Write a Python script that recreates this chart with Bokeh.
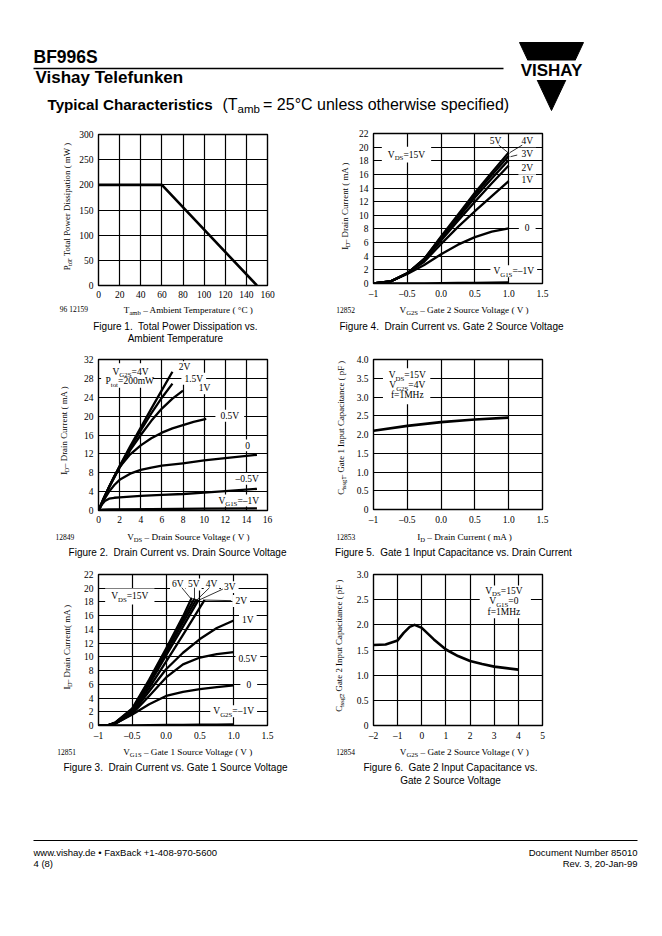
import math
from bokeh.plotting import figure
from bokeh.models import Range1d, FixedTicker, Label, BoxAnnotation, Arrow
from bokeh.layouts import column, row
from bokeh.core.properties import value
from bokeh.embed import file_html
from bokeh.resources import INLINE

# ---------------------------------------------------------------- data
# Figure 1: total power dissipation vs ambient temperature
F1_TAMB = [0, 60, 150]
F1_PTOT = [200, 200, 0]
F1_XTICKS = [0, 20, 40, 60, 80, 100, 120, 140, 160]
F1_XLABELS = ["0", "20", "40", "60", "80", "100", "120", "140", "160"]
F1_YTICKS = [0, 50, 100, 150, 200, 250, 300]
F1_YLABELS = ["0", "50", "100", "150", "200", "250", "300"]

# Figure 2: drain current vs drain source voltage (VG2S = 4 V), one curve per VG1S
F2_VDS_2V = [0, 1, 2, 3, 4, 5, 6, 7]
F2_ID_2V = [0, 5.0, 9.4, 13.6, 17.6, 21.6, 25.5, 29.4]
F2_VDS_15V = [0, 1, 2, 3, 4, 5, 6, 7]
F2_ID_15V = [0, 5.0, 9.3, 13.3, 17.0, 20.6, 23.9, 26.9]
F2_VDS_1V = [0, 1, 2, 3, 4, 5, 6, 7, 8]
F2_ID_1V = [0, 4.9, 9.1, 12.8, 16.0, 19.0, 21.6, 23.7, 25.4]
F2_VDS_05V = [0, 0.5, 1, 1.5, 2, 3, 4, 5, 6, 7, 8, 9, 10.2]
F2_ID_05V = [0, 2.7, 5.0, 7.3, 9.2, 11.9, 13.8, 15.3, 16.5, 17.4, 18.1, 18.8, 19.4]
F2_VDS_0V = [0, 0.5, 1, 1.5, 2, 3, 4, 5, 6, 8, 10, 12, 15]
F2_ID_0V = [0, 2.2, 4.0, 5.4, 6.5, 7.8, 8.6, 9.1, 9.5, 10.0, 10.6, 11.1, 11.8]
F2_VDS_M05V = [0, 0.3, 0.6, 1, 1.5, 2, 4, 6, 8, 10, 12, 15]
F2_ID_M05V = [0, 1.2, 2.0, 2.5, 2.7, 2.8, 3.1, 3.3, 3.5, 3.8, 4.1, 4.6]
F2_VDS_M1V = [0, 0.3, 1, 5, 10, 15]
F2_ID_M1V = [0, 0.2, 0.25, 0.3, 0.38, 0.45]
F2_XTICKS = [0, 2, 4, 6, 8, 10, 12, 14, 16]
F2_XLABELS = ["0", "2", "4", "6", "8", "10", "12", "14", "16"]
F2_YTICKS = [0, 4, 8, 12, 16, 20, 24, 28, 32]
F2_YLABELS = ["0", "4", "8", "12", "16", "20", "24", "28", "32"]

# Figure 3: drain current vs gate 1 source voltage (VDS = 15 V), one curve per VG2S
F3_VG1S = [-1, -0.85, -0.75, -0.5, -0.25, 0, 0.25, 0.5, 0.75, 1.0]
F3_ID_M1V = [0, 0, 0, 0.02, 0.05, 0.08, 0.1, 0.12, 0.14, 0.15]
F3_ID_0V = [0, 0.05, 0.3, 1.6, 3.1, 4.3, 4.9, 5.3, 5.6, 5.85]
F3_ID_05V = [0, 0.05, 0.3, 1.7, 4.3, 7.0, 8.9, 9.9, 10.4, 10.7]
F3_ID_1V = [0, 0.05, 0.3, 1.8, 5.0, 8.2, 10.6, 12.6, 14.2, 15.3]
F3_VG1S_2V = [-1, -0.85, -0.75, -0.5, -0.25, 0, 0.25, 0.57]
F3_ID_2V = [0, 0.05, 0.35, 2.0, 5.5, 9.3, 13.2, 18.3]
F3_VG1S_3V = [-1, -0.85, -0.75, -0.5, -0.25, 0, 0.25, 0.48]
F3_ID_3V = [0, 0.05, 0.4, 2.2, 6.0, 10.2, 14.4, 18.3]
F3_VG1S_4V = [-1, -0.85, -0.75, -0.5, -0.25, 0, 0.25, 0.45]
F3_ID_4V = [0, 0.05, 0.4, 2.3, 6.3, 10.6, 15.0, 18.4]
F3_VG1S_5V = [-1, -0.85, -0.75, -0.5, -0.25, 0, 0.25, 0.42]
F3_ID_5V = [0, 0.05, 0.4, 2.4, 6.5, 10.9, 15.5, 18.5]
F3_VG1S_6V = [-1, -0.85, -0.75, -0.5, -0.25, 0, 0.25, 0.38]
F3_ID_6V = [0, 0.05, 0.45, 2.5, 6.7, 11.2, 15.9, 18.6]
F3_XTICKS = [-1, -0.5, 0, 0.5, 1.0, 1.5]
F3_XLABELS = ["–1", "–0.5", "0.0", "0.5", "1.0", "1.5"]
F3_YTICKS = [0, 2, 4, 6, 8, 10, 12, 14, 16, 18, 20, 22]
F3_YLABELS = ["0", "2", "4", "6", "8", "10", "12", "14", "16", "18", "20", "22"]

# Figure 4: drain current vs gate 2 source voltage (VDS = 15 V), one curve per VG1S
F4_VG2S = [-1, -0.75, -0.5, -0.25, 0, 0.25, 0.5, 0.75, 1.0]
F4_ID_M1V = [0, 0, 0, 0.02, 0.05, 0.08, 0.1, 0.12, 0.15]
F4_ID_0V = [0, 0.3, 1.4, 2.7, 4.3, 5.7, 6.8, 7.6, 8.1]
F4_ID_1V = [0, 0.3, 1.5, 3.2, 5.8, 8.3, 10.6, 12.8, 15.0]
F4_ID_2V = [0, 0.3, 1.5, 3.4, 6.3, 9.2, 12.0, 14.7, 17.3]
F4_ID_3V = [0, 0.3, 1.5, 3.5, 6.6, 9.6, 12.6, 15.4, 18.1]
F4_ID_4V = [0, 0.3, 1.5, 3.6, 6.8, 9.9, 13.0, 15.9, 18.7]
F4_ID_5V = [0, 0.3, 1.5, 3.6, 6.9, 10.1, 13.3, 16.3, 19.2]
F4_XTICKS = [-1, -0.5, 0, 0.5, 1.0, 1.5]
F4_XLABELS = ["–1", "–0.5", "0.0", "0.5", "1.0", "1.5"]
F4_YTICKS = [0, 2, 4, 6, 8, 10, 12, 14, 16, 18, 20, 22]
F4_YLABELS = ["0", "2", "4", "6", "8", "10", "12", "14", "16", "18", "20", "22"]

# Figure 5: gate 1 input capacitance vs drain current
F5_ID = [-1, -0.5, 0, 0.5, 1.0]
F5_CISSG1 = [2.1, 2.23, 2.33, 2.4, 2.45]
F5_XTICKS = [-1, -0.5, 0, 0.5, 1.0, 1.5]
F5_XLABELS = ["–1", "–0.5", "0.0", "0.5", "1.0", "1.5"]
F5_YTICKS = [0, 0.5, 1.0, 1.5, 2.0, 2.5, 3.0, 3.5, 4.0]
F5_YLABELS = ["0", "0.5", "1.0", "1.5", "2.0", "2.5", "3.0", "3.5", "4.0"]

# Figure 6: gate 2 input capacitance vs gate 2 source voltage
F6_VG2S = [-2, -1.5, -1, -0.75, -0.5, -0.3, 0, 0.5, 1, 1.5, 2, 2.5, 3, 3.5, 4]
F6_CISSG2 = [1.6, 1.61, 1.69, 1.84, 1.96, 2.0, 1.94, 1.71, 1.51, 1.38, 1.28, 1.22, 1.17, 1.14, 1.11]
F6_XTICKS = [-2, -1, 0, 1, 2, 3, 4, 5]
F6_XLABELS = ["–2", "–1", "0", "1", "2", "3", "4", "5"]
F6_YTICKS = [0, 0.5, 1.0, 1.5, 2.0, 2.5, 3.0]
F6_YLABELS = ["0", "0.5", "1.0", "1.5", "2.0", "2.5", "3.0"]

# ---------------------------------------------------------------- fonts / metrics
SERIF = "Liberation Serif"
SANS = "Liberation Sans"

TIMES_W = {' ': 250, '(': 333, ')': 333, '–': 500, '=': 564, '.': 250, ',': 250, '°': 400,
           '+': 564, '-': 333,
           'A': 722, 'B': 667, 'C': 667, 'D': 722, 'E': 611, 'F': 556, 'G': 722, 'H': 722,
           'I': 333, 'J': 389, 'K': 722, 'L': 611, 'M': 889, 'N': 722, 'O': 722, 'P': 556,
           'Q': 722, 'R': 667, 'S': 556, 'T': 611, 'U': 722, 'V': 722, 'W': 944, 'X': 722,
           'Y': 722, 'Z': 611,
           'a': 444, 'b': 500, 'c': 444, 'd': 500, 'e': 444, 'f': 333, 'g': 500, 'h': 500,
           'i': 278, 'j': 278, 'k': 500, 'l': 278, 'm': 778, 'n': 500, 'o': 500, 'p': 500,
           'q': 500, 'r': 333, 's': 389, 't': 278, 'u': 500, 'v': 500, 'w': 722, 'x': 500,
           'y': 500, 'z': 444}
for _d in "0123456789":
    TIMES_W[_d] = 500

ARIAL_W = {' ': 278, '(': 333, ')': 333, '=': 584, '.': 278, ',': 278, '°': 400, '–': 556,
           '-': 333, '+': 584, '•': 350,
           'A': 667, 'B': 667, 'C': 722, 'D': 722, 'E': 667, 'F': 611, 'G': 778, 'H': 722,
           'I': 278, 'J': 500, 'K': 667, 'L': 556, 'M': 833, 'N': 722, 'O': 778, 'P': 667,
           'Q': 778, 'R': 722, 'S': 667, 'T': 611, 'U': 722, 'V': 667, 'W': 944, 'X': 667,
           'Y': 667, 'Z': 611,
           'a': 556, 'b': 556, 'c': 500, 'd': 556, 'e': 556, 'f': 278, 'g': 556, 'h': 556,
           'i': 222, 'j': 222, 'k': 500, 'l': 222, 'm': 833, 'n': 556, 'o': 556, 'p': 556,
           'q': 556, 'r': 333, 's': 500, 't': 278, 'u': 556, 'v': 500, 'w': 722, 'x': 500,
           'y': 500, 'z': 500}
for _d in "0123456789":
    ARIAL_W[_d] = 556
ARIAL_BW = {' ': 278, 'T': 611, 'y': 556, 'p': 611, 'i': 278, 'c': 556, 'a': 556, 'l': 278,
            'C': 722, 'h': 611, 'r': 389, 't': 333, 'e': 556, 's': 556}

SUB_SCALE = 0.72
SUB_DROP = 0.30
ROT_WF = 1.07      # rotated text advances a little wider than the nominal metrics
ROT_FS = 8.9


def text_w(s, fs, table):
    return sum(table.get(c, 500) for c in s) * fs / 1000.0


def layout_parts(parts, fs, table):
    """Return (pieces, total): pieces = (offset, stripped_text, font_size, is_sub, width)."""
    out = []
    off = 0.0
    for t, s in parts:
        f = fs * SUB_SCALE if s else fs
        lead = len(t) - len(t.lstrip(" "))
        off += text_w(" " * lead, f, table)
        core = t.lstrip(" ")
        w = text_w(core, f, table)
        out.append((off, core, f, s, w))
        off += w
    return out, off


# ---------------------------------------------------------------- page strips (text only)
def strip(x0, x1, y0, y1):
    p = figure(width=int(x1 - x0), height=int(y1 - y0), x_range=Range1d(x0, x1),
               y_range=Range1d(y1, y0), output_backend="svg", toolbar_location=None,
               x_axis_type=None, y_axis_type=None, min_border=0)
    p.grid.visible = False
    p.outline_line_color = None
    p.background_fill_color = "white"
    p.border_fill_color = "white"
    return p


def stext(p, x, y, s, fs, font=SANS, bold=False, align="left", angle=0.0):
    p.text(x=[x], y=[y], text=[s], text_font=value(font), text_font_size="%.2fpx" % fs,
           text_font_style="bold" if bold else "normal", text_align=align,
           text_baseline="middle", text_color="black", angle=angle)


def srich(p, x, y, parts, fs=9.2, font=SERIF, table=TIMES_W):
    pieces, total = layout_parts(parts, fs, table)
    for off, core, f, s, w in pieces:
        drop = SUB_DROP * fs if s else 0.0
        stext(p, x + off, y + drop, core, f, font=font)


def vrich(p, x, y, parts, fs=ROT_FS, font=SERIF, table=TIMES_W):
    """Rotated label reading bottom to top; (x, y) is the bottom start point."""
    pieces, total = layout_parts(parts, fs, table)
    for off, core, f, s, w in pieces:
        drop = SUB_DROP * fs if s else 0.0
        gap = 1.5 if not s and off > 0 else 0.0
        centre = (off + w / 2) * ROT_WF + gap
        stext(p, x + drop, y - centre, core, f, font=font, angle=math.pi / 2, align="center")


# ---------------------------------------------------------------- chart helper
class Chart:
    def __init__(self, fig_left, fig_right, fig_top, fig_bottom, frame, xr, yr,
                 xticks, xlabels, yticks, ylabels):
        l, t, r, b = frame
        self.l, self.t, self.r, self.b = l, t, r, b
        self.xr, self.yr = xr, yr
        self.sx = (r - l) / (xr[1] - xr[0])
        self.sy = (b - t) / (yr[1] - yr[0])
        p = figure(width=fig_right - fig_left, height=fig_bottom - fig_top,
                   x_range=Range1d(*xr), y_range=Range1d(*yr),
                   output_backend="svg", toolbar_location=None,
                   min_border_left=l - fig_left, min_border_right=fig_right - r,
                   min_border_top=t - fig_top, min_border_bottom=fig_bottom - b)
        p.background_fill_color = "white"
        p.border_fill_color = "white"
        p.outline_line_color = "black"
        p.outline_line_width = 1.4
        for ax, ticks, labs in ((p.xaxis[0], xticks, xlabels), (p.yaxis[0], yticks, ylabels)):
            ax.ticker = FixedTicker(ticks=ticks)
            ov = {}
            for k, v in zip(ticks, labs):
                ov[float(k)] = v
                ov["%g" % k] = v
            ax.major_label_overrides = ov
            ax.major_tick_line_color = None
            ax.minor_tick_line_color = None
            ax.major_tick_out = 0
            ax.major_tick_in = 0
            ax.minor_tick_out = 0
            ax.minor_tick_in = 0
            ax.axis_line_color = None
            ax.major_label_text_font = SERIF
            ax.major_label_text_font_size = "9.5px"
            ax.major_label_text_color = "black"
            ax.major_label_standoff = 5
        p.xgrid.ticker = FixedTicker(ticks=xticks)
        p.ygrid.ticker = FixedTicker(ticks=yticks)
        p.grid.grid_line_color = "black"
        p.grid.grid_line_width = 1.2
        p.grid.grid_line_alpha = 1.0
        self.p = p

    def curve(self, xs, ys, w=2.3):
        self.p.line(xs, ys, line_width=w, line_color="black", line_join="round")

    def white_box(self, x0, x1, y0, y1):
        self.p.add_layout(BoxAnnotation(left=x0, right=x1, bottom=y0, top=y1,
                                        fill_color="white", fill_alpha=1.0,
                                        line_alpha=0.0, level="underlay"))

    def rich(self, x, y, parts, fs=9.5, box=False, padx=3.0, pady=2.0):
        pieces, total = layout_parts(parts, fs, TIMES_W)
        for off, core, f, s, w in pieces:
            drop = SUB_DROP * fs if s else 0.0
            self.p.add_layout(Label(x=x, y=y, x_offset=off - total / 2, y_offset=-drop,
                                    text=core, text_align="left", text_baseline="middle",
                                    text_font=SERIF, text_font_size="%.2fpx" % f,
                                    text_color="black"))
        if box:
            hw = total / 2 + padx
            hh = 0.42 * fs + pady
            self.white_box(x - hw / self.sx, x + hw / self.sx, y - hh / self.sy, y + hh / self.sy)

    def leader(self, x0, y0, x1, y1):
        self.p.add_layout(Arrow(end=None, x_start=x0, y_start=y0, x_end=x1, y_end=y1,
                                line_width=0.8, line_color="black"))


def V(sub, rest):
    return [("V", False), (sub, True), (rest, False)]


def chart_block(col_left, col_right, ylab_w, band_top, band_bottom, frame, xr, yr,
                xticks, xlabels, yticks, ylabels):
    l, t, r, b = frame
    fig_bottom = b + 17
    c = Chart(col_left + ylab_w, col_right, band_top, fig_bottom, frame, xr, yr,
              xticks, xlabels, yticks, ylabels)
    c.ylab = strip(col_left, col_left + ylab_w, band_top, fig_bottom)
    c.below = strip(col_left, col_right, fig_bottom, band_bottom)
    c.block = column(row(c.ylab, c.p), c.below)
    return c


# ---------------------------------------------------------------- Figure 1
c1 = chart_block(0, 331, 76, 120, 350, (98, 134, 267, 285), (0, 160), (0, 300),
                 F1_XTICKS, F1_XLABELS, F1_YTICKS, F1_YLABELS)
c1.curve(F1_TAMB, F1_PTOT, w=2.6)
srich(c1.below, 123.3, 309.3, [("T", False), ("amb", True), (" – Ambient Temperature ( °C )", False)])
vrich(c1.ylab, 66.7, 283.3, [("P", False), ("tot", True), (" – Total Power Dissipation ( mW )", False)])
stext(c1.below, 59.3, 309.3, "96 12159", 7.5, font=SERIF)
stext(c1.below, 175, 325.7, "Figure 1.\u00a0 Total Power Dissipation vs.", 10, align="center")
stext(c1.below, 175, 338.3, "Ambient Temperature", 10, align="center")

# ---------------------------------------------------------------- Figure 4
c4 = chart_block(331, 662, 20, 120, 350, (373, 133, 542, 284), (-1, 1.5), (0, 22),
                 F4_XTICKS, F4_XLABELS, F4_YTICKS, F4_YLABELS)
for ys in (F4_ID_M1V, F4_ID_0V, F4_ID_1V, F4_ID_2V, F4_ID_3V, F4_ID_4V, F4_ID_5V):
    c4.curve(F4_VG2S, ys)
c4.rich(-0.512, 18.9, V("DS", "=15V"), box=True, padx=6, pady=4)
c4.rich(0.805, 20.88, [("5V", False)], box=True)
c4.rich(1.274, 20.88, [("4V", False)], box=True)
c4.rich(1.274, 19.04, [("3V", False)], box=True)
c4.rich(1.274, 17.0, [("2V", False)], box=True)
c4.rich(1.274, 15.15, [("1V", False)], box=True)
c4.rich(1.274, 8.26, [("0", False)], box=True, padx=6)
c4.rich(1.075, 1.79, V("G1S", "=–1V"), box=True)
c4.leader(0.853, 20.3, 0.986, 19.23)
c4.leader(1.2, 20.3, 1.016, 19.19)
c4.leader(1.126, 18.84, 1.027, 18.6)
srich(c4.below, 399, 309.3, V("G2S", " – Gate 2 Source Voltage ( V )"))
vrich(c4.ylab, 344, 260, [("I", False), ("D", True), (" – Drain Current ( mA )", False)])
stext(c4.below, 335.7, 309.3, "12852", 7.5, font=SERIF)
stext(c4.below, 451, 325.7, "Figure 4.\u00a0 Drain Current vs. Gate 2 Source Voltage", 10, align="center")

# ---------------------------------------------------------------- Figure 2
c2 = chart_block(0, 331, 76, 350, 560, (98, 359, 267, 510), (0, 16), (0, 32),
                 F2_XTICKS, F2_XLABELS, F2_YTICKS, F2_YLABELS)
for xs, ys in ((F2_VDS_M1V, F2_ID_M1V), (F2_VDS_M05V, F2_ID_M05V), (F2_VDS_0V, F2_ID_0V),
               (F2_VDS_05V, F2_ID_05V), (F2_VDS_1V, F2_ID_1V), (F2_VDS_15V, F2_ID_15V),
               (F2_VDS_2V, F2_ID_2V)):
    c2.curve(xs, ys)
c2.white_box(0.25, 5.15, 26.0, 31.2)
c2.rich(3.03, 29.45, V("G2S", "=4V"))
c2.rich(2.96, 27.4, [("P", False), ("tot", True), ("=200mW", False)])
c2.rich(8.14, 30.37, [("2V", False)], box=True)
c2.rich(9.02, 27.9, [("1.5V", False)], box=True)
c2.rich(10.04, 25.9, [("1V", False)], box=True)
c2.rich(12.43, 20.1, [("0.5V", False)], box=True, padx=5)
c2.rich(14.13, 13.8, [("0", False)], box=True, padx=5)
c2.rich(14.08, 6.7, [("–0.5V", False)], box=True)
c2.rich(13.28, 2.1, V("G1S", "=–1V"), box=True)
srich(c2.below, 126.7, 536.7, V("DS", " – Drain Source Voltage ( V )"))
vrich(c2.ylab, 63.3, 485, [("I", False), ("D", True), (" – Drain Current ( mA )", False)])
stext(c2.below, 55, 536.7, "12849", 7.5, font=SERIF)
stext(c2.below, 177, 552.3, "Figure 2.\u00a0 Drain Current vs. Drain Source Voltage", 10, align="center")

# ---------------------------------------------------------------- Figure 5
c5 = chart_block(331, 662, 20, 350, 560, (373, 359, 542, 510), (-1, 1.5), (0, 4),
                 F5_XTICKS, F5_XLABELS, F5_YTICKS, F5_YLABELS)
c5.curve(F5_ID, F5_CISSG1, w=2.6)
c5.white_box(-0.86, -0.16, 2.81, 3.77)
c5.rich(-0.5, 3.58, V("DS", "=15V"))
c5.rich(-0.5, 3.31, V("G2S", "=4V"))
c5.rich(-0.5, 3.05, [("f=1MHz", False)])
srich(c5.below, 416.7, 536, [("I", False), ("D", True), (" – Drain Current ( mA )", False)])
vrich(c5.ylab, 340, 509.3, [("C", False), ("issg1", True), (" – Gate 1 Input Capacitance ( pF )", False)])
stext(c5.below, 336, 536, "12853", 7.5, font=SERIF)
stext(c5.below, 453, 551.7, "Figure 5.\u00a0 Gate 1 Input Capacitance vs. Drain Current", 10, align="center")

# ---------------------------------------------------------------- Figure 3
c3 = chart_block(0, 331, 76, 560, 800, (98, 574, 267, 726), (-1, 1.5), (0, 22),
                 F3_XTICKS, F3_XLABELS, F3_YTICKS, F3_YLABELS)
for ys in (F3_ID_M1V, F3_ID_0V, F3_ID_05V, F3_ID_1V):
    c3.curve(F3_VG1S, ys)
for xs, ys in ((F3_VG1S_2V, F3_ID_2V), (F3_VG1S_3V, F3_ID_3V), (F3_VG1S_4V, F3_ID_4V),
               (F3_VG1S_5V, F3_ID_5V), (F3_VG1S_6V, F3_ID_6V)):
    c3.curve(xs, ys)
c3.rich(-0.537, 18.8, V("DS", "=15V"), box=True, padx=6, pady=4)
c3.rich(0.173, 20.55, [("6V", False)], box=True, padx=2)
c3.rich(0.41, 20.55, [("5V", False)], box=True, padx=2)
c3.rich(0.672, 20.55, [("4V", False)], box=True, padx=2)
c3.rich(0.942, 20.16, [("3V", False)], box=True)
c3.rich(1.111, 18.14, [("2V", False)], box=True)
c3.rich(1.209, 15.34, [("1V", False)], box=True)
c3.rich(1.209, 9.65, [("0.5V", False)], box=True)
c3.rich(1.223, 6.03, [("0", False)], box=True, padx=6)
c3.rich(1.0, 2.07, V("G2S", "=–1V"), box=True)
c3.leader(0.232, 20.08, 0.371, 18.42)
c3.leader(0.42, 20.08, 0.42, 18.42)
c3.leader(0.642, 20.08, 0.445, 18.19)
c3.leader(0.839, 19.87, 0.469, 18.19)
c3.leader(0.963, 18.19, 0.568, 18.28)
srich(c3.below, 122.7, 751.7, V("G1S", " – Gate 1 Source Voltage ( V )"))
vrich(c3.ylab, 66, 699.3, [("I", False), ("D", True), (" – Drain Current( mA )", False)])
stext(c3.below, 56.7, 751.7, "12851", 7.5, font=SERIF)
stext(c3.below, 175, 767.3, "Figure 3.\u00a0 Drain Current vs. Gate 1 Source Voltage", 10, align="center")

# ---------------------------------------------------------------- Figure 6
c6 = chart_block(331, 662, 20, 560, 800, (373, 574, 542, 726), (-2, 5), (0, 3),
                 F6_XTICKS, F6_XLABELS, F6_YTICKS, F6_YLABELS)
c6.curve(F6_VG2S, F6_CISSG2, w=2.6)
c6.white_box(2.40, 4.52, 2.13, 2.78)
c6.rich(3.40, 2.68, V("DS", "=15V"))
c6.rich(3.40, 2.47, V("G1S", "=0"))
c6.rich(3.40, 2.26, [("f=1MHz", False)])
srich(c6.below, 399.3, 751.7, V("G2S", " – Gate 2 Source Voltage ( V )"))
vrich(c6.ylab, 338.3, 726, [("C", False), ("issg2", True), (" – Gate 2 Input Capacitance ( pF )", False)])
stext(c6.below, 335.7, 751.7, "12854", 7.5, font=SERIF)
stext(c6.below, 450, 767.3, "Figure 6.\u00a0 Gate 2 Input Capacitance vs.", 10, align="center")
stext(c6.below, 450, 780, "Gate 2 Source Voltage", 10, align="center")

# ---------------------------------------------------------------- header / footer
hdr = strip(0, 662, 0, 120)
stext(hdr, 33, 56, "BF996S", 17.5, bold=True)
hdr.line([33, 503], [68, 68], line_width=1.3, line_color="black")
stext(hdr, 35, 76.5, "Vishay Telefunken", 17, bold=True)
x0 = 47.0
stext(hdr, x0, 104, "Typical Characteristics", 15.2, bold=True)
x0 += text_w("Typical Characteristics  ", 15.2, ARIAL_BW)
stext(hdr, x0, 104, "(T", 16)
x0 += text_w("(T", 16, ARIAL_W)
stext(hdr, x0, 108.5, "amb", 11.5)
x0 += text_w("amb ", 11.5, ARIAL_W)
stext(hdr, x0, 104, "= 25°C unless otherwise specified)", 16)
# logo
hdr.patch([519, 583, 551], [42, 42, 110], color="black")
hdr.quad(left=[514], right=[588], top=[60.5], bottom=[79], color="white")
stext(hdr, 551, 70, "VISHAY", 17, bold=True, align="center")

ftr = strip(0, 662, 800, 936)
ftr.line([33, 637], [840, 840], line_width=1.2, line_color="black")
stext(ftr, 33, 852, "www.vishay.de • FaxBack +1-408-970-5600", 9.5)
stext(ftr, 33, 863, "4 (8)", 9.5)
stext(ftr, 637, 852, "Document Number 85010", 9.5, align="right")
stext(ftr, 637, 863, "Rev. 3, 20-Jan-99", 9.5, align="right")

layout = column(hdr, row(c1.block, c4.block), row(c2.block, c5.block), row(c3.block, c6.block), ftr)

open("out.html", "w").write(file_html(layout, INLINE))
